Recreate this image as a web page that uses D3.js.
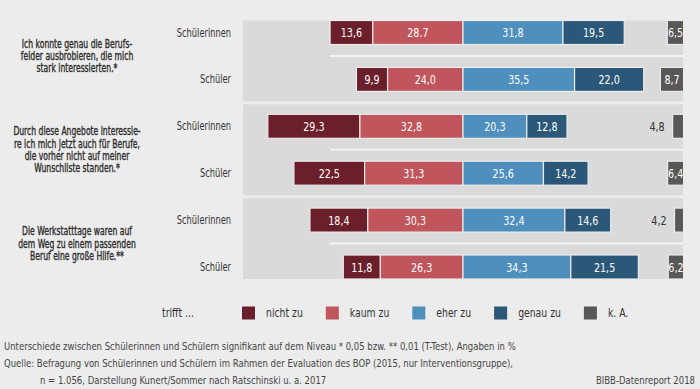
<!DOCTYPE html>
<html>
<head>
<meta charset="utf-8">
<script src="https://cdn.jsdelivr.net/npm/d3@7"></script>
<style>
  body { margin: 0; background: #ececec; }
  svg { display: block; font-family: "DejaVu Sans Condensed", "DejaVu Sans", sans-serif; font-stretch: condensed; }
</style>
</head>
<body>
<div id="vis"></div>
<script>
// Data (percent)
const questions = [
  ["Ich konnte genau die Berufs-", "felder ausbrobieren, die mich", "stark interessierten.*"],
  ["Durch diese Angebote interessie-", "re ich mich jetzt auch für Berufe,", "die vorher nicht auf meiner", "Wunschliste standen.*"],
  ["Die Werkstatttage waren auf", "dem Weg zu einem passenden", "Beruf eine große Hilfe.**"]
];
const groups = ["Schülerinnen", "Schüler"];
const categories = ["nicht zu", "kaum zu", "eher zu", "genau zu", "k. A."];
const nichtZu = [13.6, 9.9, 29.3, 22.5, 18.4, 11.8];
const kaumZu = [28.7, 24.0, 32.8, 31.3, 30.3, 26.3];
const eherZu = [31.8, 35.5, 20.3, 25.6, 32.4, 34.3];
const genauZu = [19.5, 22.0, 12.8, 14.2, 14.6, 21.5];
const keineAngabe = [6.5, 8.7, 4.8, 6.4, 4.2, 6.2];
const labelOverride = { "0-kaum zu": "28.7" }; // as printed in the original

const COLORS = ["#6a1f2b", "#c0555b", "#4f8fbd", "#2b5878", "#585858"];

const WIDTH = 700, HEIGHT = 389;
const svg = d3.select("#vis").append("svg")
  .attr("width", WIDTH).attr("height", HEIGHT);

svg.append("rect").attr("width", WIDTH).attr("height", HEIGHT).attr("fill", "#ececec");

// the original font is a narrow one: squeeze text horizontally
const tr = (px, py, sx) => "translate(" + px + "," + py + ") scale(" + sx + ",1)";

// rows: question x group
const rows = [];
questions.forEach((q, qi) => groups.forEach((g, gi) => rows.push({ id: qi + "-" + gi, q: qi, group: g })));
rows.forEach((r, i) => {
  r.n = nichtZu[i]; r.k = kaumZu[i]; r.e = eherZu[i]; r.g = genauZu[i]; r.ka = keineAngabe[i]; r.i = i;
});

const x = d3.scaleLinear().domain([-70, 70]).range([243, 683]);
const y = d3.scalePoint().domain(rows.map(r => r.id)).range([32.5, 267]);
const step = y.step();
const BAR_H = 24;

// group panels
questions.forEach((q, qi) => {
  const first = y(qi + "-0"), last = y(qi + "-1");
  const top = qi === 0 ? first - BAR_H / 2 : first - step / 2 + 1.5;
  const bottom = qi === questions.length - 1 ? last + BAR_H / 2 : last + step / 2 - 1.5;
  svg.append("rect")
     .attr("x", x(-70)).attr("y", top)
     .attr("width", x(70) - x(-70)).attr("height", bottom - top)
     .attr("fill", "#dadada");
  svg.append("line")
     .attr("x1", 330).attr("x2", x(70))
     .attr("y1", (first + last) / 2).attr("y2", (first + last) / 2)
     .attr("stroke", "#f3f3f3").attr("stroke-width", 2);

  // question text
  const lh = 12.4;
  const mid = (first + last) / 2;
  const t = svg.append("text")
     .attr("transform", tr(77, mid - (q.length - 1) * lh / 2 + 4, 0.74))
     .attr("text-anchor", "middle")
     .attr("font-size", "11.5px").attr("fill", "#2e2e2e")
     .attr("stroke", "#2e2e2e").attr("stroke-width", 0.35);
  q.forEach((line, li) => {
    t.append("tspan").attr("x", 0).attr("y", li * lh).text(line);
  });
});

// group labels
svg.selectAll(".grp").data(rows).join("text")
   .attr("class", "grp")
   .attr("transform", d => tr(231, y(d.id) + 4, 0.8))
   .attr("text-anchor", "end")
   .attr("font-size", "11.5px").attr("fill", "#333")
   .text(d => d.group);

// stacked segments (diverging around "kaum zu" | "eher zu")
const segs = [];
rows.forEach(r => {
  segs.push({ r, cat: "nicht zu", c: 0, x0: -(r.n + r.k), x1: -r.k, v: r.n });
  segs.push({ r, cat: "kaum zu", c: 1, x0: -r.k, x1: 0, v: r.k });
  segs.push({ r, cat: "eher zu", c: 2, x0: 0, x1: r.e, v: r.e });
  segs.push({ r, cat: "genau zu", c: 3, x0: r.e, x1: r.e + r.g, v: r.g });
});

const fmt = v => d3.format(".1f")(v).replace(".", ",");
const label = d => labelOverride[d.r.i + "-" + d.cat] || fmt(d.v);

svg.selectAll(".seg").data(segs).join("rect")
   .attr("class", "seg")
   .attr("x", d => x(d.x0)).attr("width", d => x(d.x1) - x(d.x0))
   .attr("y", d => y(d.r.id) - BAR_H / 2).attr("height", BAR_H)
   .attr("fill", d => COLORS[d.c])
   .attr("stroke", "#ececec").attr("stroke-width", 1.2);

svg.selectAll(".seglab").data(segs).join("text")
   .attr("class", "seglab")
   .attr("transform", d => tr((x(d.x0) + x(d.x1)) / 2, y(d.r.id) + 4.5, 0.85))
   .attr("text-anchor", "middle")
   .attr("font-size", "12.5px").attr("fill", "#fff")
   .text(label);

// k. A. bars, right aligned and clipped at the panel edge
svg.append("clipPath").attr("id", "panelClip")
   .append("rect").attr("x", x(-70)).attr("y", 0)
   .attr("width", x(70) - x(-70)).attr("height", HEIGHT);

const KA_END = 71.5;
const ka = svg.append("g").attr("clip-path", "url(#panelClip)");
ka.selectAll("rect").data(rows).join("rect")
  .attr("x", d => x(KA_END - d.ka)).attr("width", d => x(KA_END) - x(KA_END - d.ka))
  .attr("y", d => y(d.id) - BAR_H / 2).attr("height", BAR_H)
  .attr("fill", COLORS[4])
  .attr("stroke", "#ececec").attr("stroke-width", 1.2);
ka.selectAll("text").data(rows.filter(d => d.ka >= 6)).join("text")
  .attr("transform", d => tr((x(KA_END - d.ka) + x(KA_END)) / 2 - 2, y(d.id) + 4.5, 0.85))
  .attr("text-anchor", "middle")
  .attr("font-size", "12.5px").attr("fill", "#fff")
  .text(d => fmt(d.ka));
svg.selectAll(".kaout").data(rows.filter(d => d.ka < 6)).join("text")
   .attr("class", "kaout")
   .attr("transform", d => tr(x(KA_END - d.ka) - 8, y(d.id) + 4.5, 0.85))
   .attr("text-anchor", "end")
   .attr("font-size", "12.5px").attr("fill", "#333")
   .text(d => fmt(d.ka));

// legend
const LEG_Y = 313, LEG_SX = 0.86;
svg.append("text").attr("transform", tr(162, LEG_Y + 4, LEG_SX))
   .attr("font-size", "12px").attr("fill", "#333").text("trifft ...");
let lx = 242;
categories.forEach((c, i) => {
  svg.append("rect").attr("x", lx).attr("y", LEG_Y - 6.5)
     .attr("width", 13).attr("height", 13).attr("fill", COLORS[i]);
  const t = svg.append("text").attr("transform", tr(lx + 24, LEG_Y + 4, LEG_SX))
     .attr("font-size", "12px").attr("fill", "#333").text(c);
  lx = lx + 24 + t.node().getComputedTextLength() * LEG_SX + 23;
});

// footer
const FOOT_SX = 0.86;
const foot = svg.append("g").attr("font-size", "11px").attr("fill", "#444");
foot.append("text").attr("transform", tr(4, 350, FOOT_SX))
    .text("Unterschiede zwischen Schülerinnen und Schülern signifikant auf dem Niveau * 0,05 bzw. ** 0,01 (T-Test), Angaben in %");
foot.append("text").attr("transform", tr(4, 367, FOOT_SX))
    .text("Quelle: Befragung von Schülerinnen und Schülern im Rahmen der Evaluation des BOP (2015, nur Interventionsgruppe),");
foot.append("text").attr("transform", tr(40, 384, FOOT_SX))
    .text("n = 1.056, Darstellung Kunert/Sommer nach Ratschinski u. a. 2017");
foot.append("text").attr("transform", tr(695, 384, FOOT_SX)).attr("text-anchor", "end")
    .text("BIBB-Datenreport 2018");
</script>
</body>
</html>
